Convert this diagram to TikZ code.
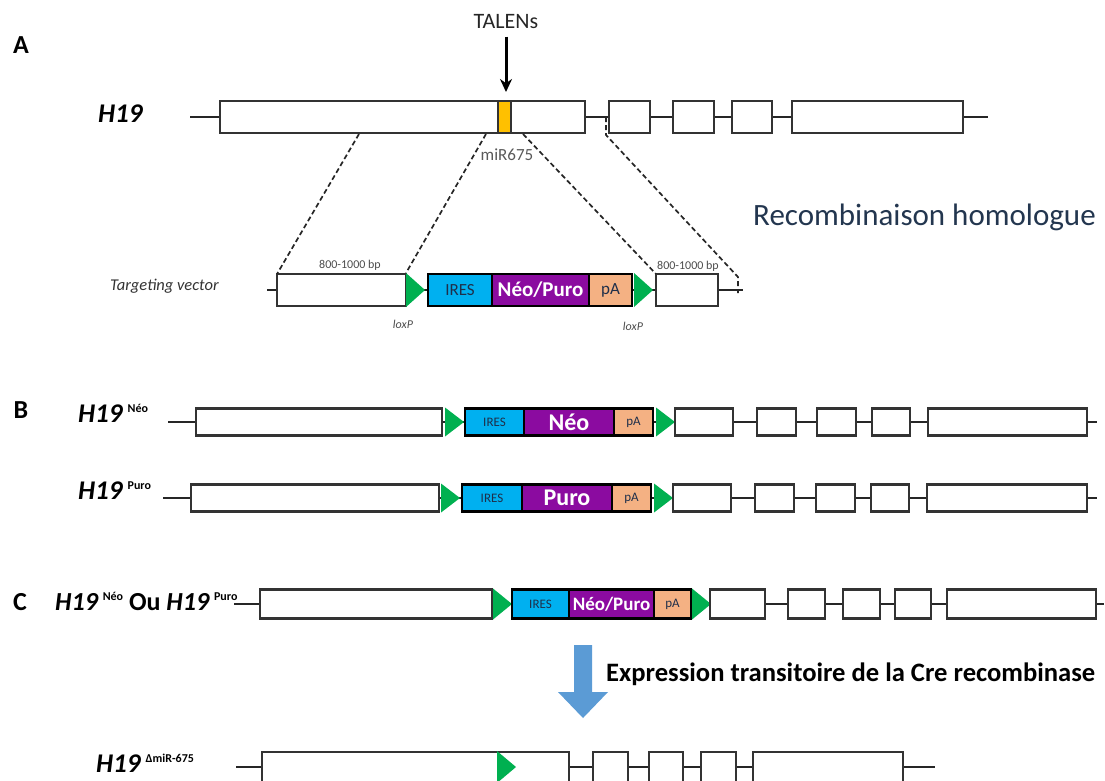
\documentclass[tikz,border=0pt]{standalone}
\usepackage{fontspec}
\setmainfont{Carlito}
\usetikzlibrary{arrows.meta}

\definecolor{irescol}{HTML}{00B0F0}
\definecolor{neocol}{HTML}{8B0BA0}
\definecolor{pacol}{HTML}{F4B183}
\definecolor{loxcol}{HTML}{00B050}
\definecolor{mircol}{HTML}{FFC000}
\definecolor{arrowcol}{HTML}{5B9BD5}
\definecolor{recol}{HTML}{23364F}
\definecolor{navytxt}{HTML}{1F2F4A}

\def\rowh{30}
\tikzset{
  gene/.style={draw=black!85, line width=2.2pt},
  exon/.style={draw=black!80, line width=2.1pt, fill=white, inner sep=0pt, outer sep=0pt, minimum height=\rowh},
  seg/.style={draw=black, line width=2.1pt, inner sep=0pt, outer sep=0pt, minimum height=\rowh, text=navytxt},
  homol/.style={dashed, dash pattern=on 5pt off 3pt, line width=1.7pt, black!85},
  panel/.style={font=\bfseries\fontsize{26}{26}\selectfont},
  allele/.style={anchor=base west, inner sep=0pt, font=\bfseries\fontsize{27}{27}\selectfont},
  bplab/.style={inner sep=0pt, text=black!70, font=\fontsize{12}{12}\selectfont},
  loxlab/.style={inner sep=0pt, text=black!70, font=\itshape\fontsize{12}{12}\selectfont},
}
% exon box: name, left x, right x, y
\newcommand{\exon}[4]{\node[exon, minimum width={#3-#2}] (#1) at ({(#2+#3)/2},#4) {};}
% loxP site: name, left x, y
\newcommand{\loxp}[3]{\fill[loxcol] (#2,{#3-\rowh/2-1}) coordinate (#1) -- ({#2+19},#3) -- (#2,{#3+\rowh/2+1}) -- cycle;}
% IRES / marker / pA cassette
\newcommand{\cassette}[9]{%
  \node[seg, fill=irescol, minimum width={#3-#2}, font=\fontsize{#9}{#9}\selectfont] (#1i) at ({(#2+#3)/2},#6) {IRES};
  \node[seg, fill=neocol, text=white, minimum width={#4-#3}, font=\bfseries\fontsize{#8}{#8}\selectfont] (#1n) at ({(#3+#4)/2},#6) {#7};
  \node[seg, fill=pacol, minimum width={#5-#4}, font=\fontsize{#9}{#9}\selectfont] (#1p) at ({(#4+#5)/2},#6) {pA};}
\newcommand{\supr}[1]{\,\raisebox{10pt}{\fontsize{12}{12}\selectfont\bfseries #1}}

\begin{document}
\begin{tikzpicture}[x=1pt, y=-1pt]
  \path[use as bounding box, clip] (0,0) rectangle (1105,780);

  % A: wild-type H19
  \def\rowh{32}
  \node[panel] (pa) at (21,45) {A};
  \node[allele] (la) at (98,122) {\textit{H19}};
  \draw[gene] (190,117) coordinate (a0) -- (988,117) coordinate (a9);
  \exon{a1}{220}{585}{117}
  \exon{a2}{609}{650}{117}
  \exon{a3}{673}{714}{117}
  \exon{a4}{732}{772}{117}
  \exon{a5}{792}{963}{117}
  \node[draw=black!80, line width=1.4pt, fill=mircol, inner sep=0pt, minimum width=13, minimum height=\rowh] (mir) at (504.5,117) {};
  \node[text=black!85, font=\fontsize{22}{22}\selectfont] (talen) at (506,22) {TALENs};
  \coordinate (cut) at (506,92);
  \draw[line width=3pt, -{Stealth[length=13pt,width=12pt]}, shorten <=4pt] (talen.south) -- (cut);
  \node[font=\fontsize{17}{17}\selectfont, text=black!65] (mirlab) at (507,155) {miR675};
  \coordinate (d1) at (359,134);
  \coordinate (d2) at (486,134);
  \coordinate (d3) at (523,134);
  \coordinate (d4) at (606,117);
  \coordinate (d4b) at (606,135);
  \node[anchor=west, inner sep=0pt, text=recol, font=\fontsize{31}{31}\selectfont] (recomb) at (753,217) {Recombinaison homologue};

  % targeting vector
  \def\rowh{32}
  \node[anchor=west, inner sep=0pt, text=black!80, font=\itshape\fontsize{16.5}{16.5}\selectfont] (tv) at (110,286) {Targeting vector};
  \draw[gene] (267,290) coordinate (v0) -- (743,290) coordinate (v9);
  \exon{vL}{277}{406}{290}
  \loxp{vx1}{406}{290}
  \cassette{vc}{428}{492}{589}{632}{290}{Néo/Puro}{21}{17}
  \loxp{vx2}{634}{290}
  \exon{vR}{656}{718}{290}
  \coordinate (vend) at (738,277);
  \coordinate (vtail) at (738,293);
  \node[bplab] (bp1) at (350,265) {800-1000 bp};
  \node[bplab] (bp2) at (688,266) {800-1000 bp};
  \node[loxlab] (lx1) at (403,324) {loxP};
  \node[loxlab] (lx2) at (633,326) {loxP};
  \draw[homol] (d1) -- (vL.north west);
  \draw[homol] (d2) -- (vx1);
  \draw[homol] (d3) -- (vR.north west);
  \draw[homol] (d4) -- (d4b) -- (vend) -- (vtail);

  % B: H19 Neo
  \def\rowh{27}
  \node[panel] (pb) at (21,410) {B};
  \node[allele] (lbn) at (78,422) {\textit{H19}\supr{Néo}};
  \draw[gene] (168,422) -- (1097,422);
  \exon{bn1}{196}{442}{422}
  \loxp{bnx1}{445}{422}
  \cassette{bnc}{465}{524}{614}{653}{422}{Néo}{24}{13}
  \loxp{bnx2}{656}{422}
  \exon{bn2}{675}{733}{422}
  \exon{bn3}{757}{796}{422}
  \exon{bn4}{817}{856}{422}
  \exon{bn5}{872}{910}{422}
  \exon{bn6}{928}{1087}{422}

  % B: H19 Puro
  \def\rowh{27}
  \node[allele] (lbp) at (78,499) {\textit{H19}\supr{Puro}};
  \draw[gene] (163,498) -- (1097,498);
  \exon{bp1}{191}{439}{498}
  \loxp{bpx1}{441}{498}
  \cassette{bpc}{462}{522}{612}{651}{498}{Puro}{24}{13}
  \loxp{bpx2}{654}{498}
  \exon{bp2}{673}{731}{498}
  \exon{bp3}{755}{794}{498}
  \exon{bp4}{816}{855}{498}
  \exon{bp5}{871}{909}{498}
  \exon{bp6}{927}{1087}{498}

  % C: before and after Cre
  \def\rowh{29}
  \node[panel] (pc) at (20,602) {C};
  \node[allele, font=\bfseries\fontsize{26}{26}\selectfont] (lc) at (55,610) {\textit{H19}\supr{Néo} Ou \textit{H19}\supr{Puro}};
  \draw[gene] (234,604) -- (1104,604);
  \exon{c1}{260}{492}{604}
  \loxp{cx1}{493}{604}
  \cassette{cc}{512}{569}{654}{691}{604}{Néo/Puro}{19}{13}
  \loxp{cx2}{692}{604}
  \exon{c2}{710}{765}{604}
  \exon{c3}{788}{825}{604}
  \exon{c4}{843}{880}{604}
  \exon{c5}{895}{931}{604}
  \exon{c6}{947}{1096}{604}

  \fill[arrowcol] (574,645) -- (592,645) -- (592,692) -- (608,692) -- (583,718) -- (558,692) -- (574,692) -- cycle;
  \node[anchor=west, inner sep=0pt, font=\bfseries\fontsize{26.6}{26.6}\selectfont] (cre) at (606,674) {Expression transitoire de la Cre recombinase};

  \def\rowh{30}
  \node[allele] (ld) at (96,772) {\textit{H19}\supr{ΔmiR-675}};
  \draw[gene] (236,767) -- (935,767);
  \exon{d1}{262}{569}{767}
  \loxp{dx1}{497}{767}
  \exon{d2}{593}{628}{767}
  \exon{d3}{649}{683}{767}
  \exon{d4}{701}{736}{767}
  \exon{d5}{753}{903}{767}
\end{tikzpicture}
\end{document}
